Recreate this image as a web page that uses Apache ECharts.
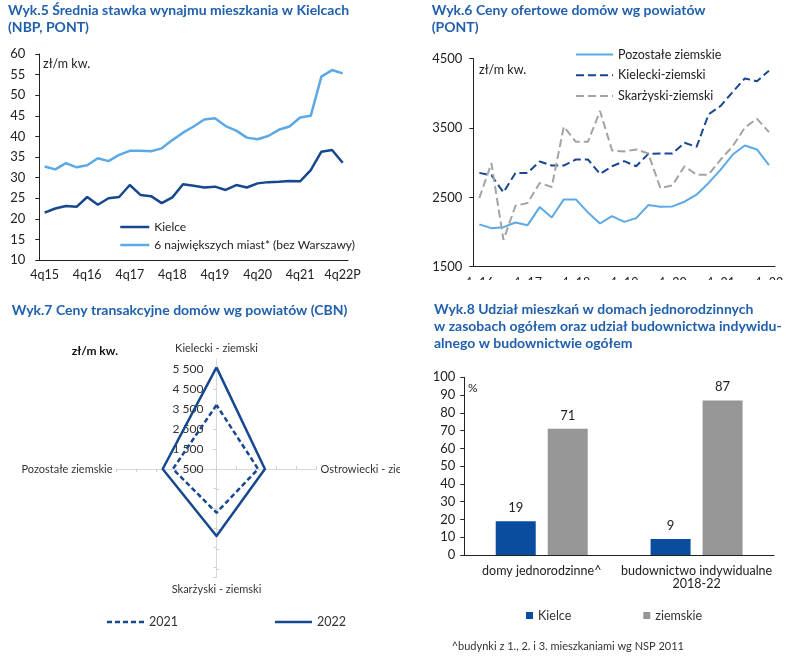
<!DOCTYPE html>
<html><head><meta charset="utf-8">
<script src="https://cdn.jsdelivr.net/npm/echarts@6/dist/echarts.min.js"></script>
<style>
html,body{margin:0;padding:0;background:#fff;width:800px;height:659px;overflow:hidden;}
.p{position:absolute;}
</style></head><body>
<div id="c1" class="p" style="left:0;top:0;width:400px;height:290px"></div>
<div id="c2" class="p" style="left:400px;top:0;width:400px;height:280px"></div>
<div id="c3" class="p" style="left:0;top:290px;width:400px;height:369px"></div>
<div id="c4" class="p" style="left:400px;top:290px;width:400px;height:369px"></div>
<script>
// ---- Wyk.5 data ----
const quarters5 = ['4q15','1q16','2q16','3q16','4q16','1q17','2q17','3q17','4q17','1q18','2q18','3q18','4q18','1q19','2q19','3q19','4q19','1q20','2q20','3q20','4q20','1q21','2q21','3q21','4q21','1q22','2q22','3q22','4q22P'];
const kielceRent = [21.5,22.5,23.1,22.9,25.3,23.4,25.0,25.3,28.2,25.8,25.5,23.8,25.2,28.4,28.0,27.6,27.8,27.0,28.2,27.6,28.6,28.9,29.0,29.2,29.1,31.8,36.3,36.7,33.6];
const top6Rent = [32.7,32.0,33.5,32.5,33.0,34.7,34.0,35.5,36.5,36.5,36.4,37.1,39.1,40.9,42.4,44.1,44.4,42.5,41.4,39.7,39.3,40.1,41.6,42.4,44.6,45.0,54.5,56.1,55.3];
const seriesNames5 = ['Kielce','6 największych miast* (bez Warszawy)'];

// ---- Wyk.6 data ----
const quarters6 = ['4q16','1q17','2q17','3q17','4q17','1q18','2q18','3q18','4q18','1q19','2q19','3q19','4q19','1q20','2q20','3q20','4q20','1q21','2q21','3q21','4q21','1q22','2q22','3q22','4q22'];
const pozostale = [2110,2056,2070,2138,2099,2360,2210,2471,2471,2283,2123,2229,2147,2200,2389,2365,2370,2437,2539,2708,2901,3118,3249,3191,2964];
const kielecki = [2853,2819,2572,2853,2853,3017,2959,2959,3046,3046,2838,2949,3022,2949,3128,3133,3133,3287,3229,3698,3819,4022,4215,4176,4326];
const skarzyski = [2490,2993,1886,2379,2418,2708,2650,3519,3302,3302,3746,3176,3162,3191,3133,2635,2674,2949,2828,2828,3046,3239,3505,3635,3442];
const seriesNames6 = ['Pozostałe ziemskie','Kielecki-ziemski','Skarżyski-ziemski'];

// ---- Wyk.7 data (radar, counter-clockwise from top) ----
const radarAxes = ['Kielecki - ziemski','Pozostałe ziemskie','Skarżyski - ziemski','Ostrowiecki - ziemski'];
const price2021 = [3700,2680,2685,2580];
const price2022 = [5580,3190,3850,2920];
const radarTicks = [500,1500,2500,3500,4500,5500];
const radarAxisMax = 6000;

// ---- Wyk.8 data ----
const cats8 = ['domy jednorodzinne^','budownictwo indywidualne\n2018-22'];
const kielceShare = [19,9];
const ziemskieShare = [71,87];

const F = 'Lato, "Noto Sans", sans-serif';
const TITLE = {fontFamily:F, fontWeight:'bold', fontSize:14, color:'#2160ad', lineHeight:17};
const TXT = {fontFamily:F, fontSize:12, color:'#222', fontWeight:'normal'};
const DARK = '#17478f', LIGHT = '#5ca9e6', GRAY = '#a3a3a3';
const AX = {lineStyle:{color:'#222', width:1}};

// Chart 1
echarts.init(document.getElementById('c1')).setOption({
  animation:false,
  title:[
    {text:'Wyk.5 Średnia stawka wynajmu mieszkania w Kielcach\n(NBP, PONT)', left:8, top:2, padding:0, textStyle:TITLE},
    {text:'zł/m kw.', left:43, top:57, padding:0, textStyle:Object.assign({}, TXT, {fontSize:12.5})}
  ],
  grid:{left:39.3, right:52, top:54, bottom:30, outerBoundsMode:'none', containLabel:false},
  legend:{orient:'vertical', left:119, top:221, padding:0, itemWidth:29, itemHeight:14, itemGap:6,
    itemStyle:{opacity:0},
    textStyle:Object.assign({}, TXT, {fontSize:12}), lineStyle:{width:2.5}, data:seriesNames5},
  xAxis:{type:'category', data:quarters5, boundaryGap:true, axisLine:AX,
    axisTick:{interval:0, length:3, lineStyle:{color:'#222'}},
    axisLabel:{interval:3, margin:8, fontFamily:F, fontSize:12.5, color:'#222'}},
  yAxis:{type:'value', min:10, max:60, interval:5, axisLine:Object.assign({show:true}, AX),
    axisTick:{show:true, length:4, lineStyle:{color:'#222'}}, splitLine:{show:false},
    axisLabel:{margin:14, fontFamily:F, fontSize:13, color:'#222'}},
  series:[
    {type:'line', name:seriesNames5[0], data:kielceRent, symbol:'none', lineStyle:{color:DARK, width:2.5}, itemStyle:{color:DARK}},
    {type:'line', name:seriesNames5[1], data:top6Rent, symbol:'none', lineStyle:{color:LIGHT, width:2.5}, itemStyle:{color:LIGHT}}
  ]
});

// Chart 2
echarts.init(document.getElementById('c2')).setOption({
  animation:false,
  title:[
    {text:'Wyk.6 Ceny ofertowe domów wg powiatów\n(PONT)', left:31.7, top:2, padding:0, textStyle:TITLE},
    {text:'zł/m kw.', left:79, top:63, padding:0, textStyle:Object.assign({}, TXT, {fontSize:12.5})}
  ],
  grid:{left:73.3, right:25, top:58.7, bottom:13.3, outerBoundsMode:'none', containLabel:false},
  legend:{orient:'vertical', left:175, top:48, padding:0, itemWidth:37, itemHeight:14, itemGap:7.7,
    itemStyle:{opacity:0},
    textStyle:Object.assign({}, TXT, {fontSize:12.5}), lineStyle:{width:2}, data:seriesNames6},
  xAxis:{type:'category', data:quarters6, boundaryGap:true, axisLine:AX,
    axisTick:{interval:0, length:3, lineStyle:{color:'#222'}},
    axisLabel:{interval:3, margin:10, fontFamily:F, fontSize:12.5, color:'#222'}},
  yAxis:{type:'value', min:1500, max:4500, interval:1000, axisLine:Object.assign({show:true}, AX),
    axisTick:{show:true, length:4, lineStyle:{color:'#222'}}, splitLine:{show:false},
    axisLabel:{margin:11, fontFamily:F, fontSize:13, color:'#222', formatter:v=>String(v)}},
  series:[
    {type:'line', name:seriesNames6[0], data:pozostale, symbol:'none', lineStyle:{color:LIGHT, width:2}, itemStyle:{color:LIGHT}},
    {type:'line', name:seriesNames6[1], data:kielecki, symbol:'none', lineStyle:{color:DARK, width:2, type:[8,4]}, itemStyle:{color:DARK}},
    {type:'line', name:seriesNames6[2], data:skarzyski, symbol:'none', lineStyle:{color:GRAY, width:2, type:[8,4]}, itemStyle:{color:GRAY}}
  ]
});

// Chart 3 (radar)
const radarNameLabels = radarAxes.map((n,i)=> i===0 ? n+'\n\u00a0' : (i===2 ? '\u00a0\n'+n : n));
const fmtSpace = v=> v>=1000 ? Math.floor(v/1000)+' '+String(v%1000).padStart(3,'0') : String(v);
const vAxisBase = {type:'value', min:radarTicks[0], max:radarAxisMax, interval:1000,
  axisLine:{show:true, lineStyle:{color:'#d9d9d9', width:1}}, splitLine:{show:false},
  axisTick:{show:true, inside:false, length:3, lineStyle:{color:'#cfcfcf'}}};
echarts.init(document.getElementById('c3')).setOption({
  animation:false,
  title:[
    {text:'Wyk.7 Ceny transakcyjne domów wg powiatów (CBN)', left:11.7, top:11.5, padding:0, textStyle:TITLE},
    {text:'zł/m kw.', left:71.7, top:55, padding:0, textStyle:{fontFamily:F, fontSize:12, fontWeight:'bold', color:'#111'}}
  ],
  radar:{center:[216.5,179], radius:100, startAngle:90, splitNumber:5, shape:'polygon',
    indicator: radarNameLabels.map(n=>({name:n, min:radarTicks[0], max:radarTicks[radarTicks.length-1]})),
    axisName:{color:'#333', fontFamily:F, fontSize:11, lineHeight:11},
    axisNameGap:4,
    axisLine:{lineStyle:{color:'#d9d9d9', width:1}},
    axisTick:{show:true, length:3, lineStyle:{color:'#cfcfcf'}},
    splitLine:{show:false}, splitArea:{show:false}, axisLabel:{show:false}},
  grid:[
    {left:216.5, top:69, width:1, height:110, outerBoundsMode:'none', containLabel:false},
    {left:216.5, top:179, width:1, height:108, outerBoundsMode:'none', containLabel:false}
  ],
  xAxis:[{type:'value', show:false, gridIndex:0},{type:'value', show:false, gridIndex:1}],
  yAxis:[
    Object.assign({}, vAxisBase, {gridIndex:0,
      axisLabel:{margin:13, fontFamily:F, fontSize:12, color:'#333', showMaxLabel:false, formatter:fmtSpace}}),
    Object.assign({}, vAxisBase, {gridIndex:1, inverse:true, axisLabel:{show:false}})
  ],
  legend:{left:107, top:325.5, padding:0, itemWidth:37, itemHeight:2.5, itemGap:97,
    textStyle:Object.assign({}, TXT, {fontSize:12.5, color:'#333'}),
    data:[{name:'2021', icon:'path://M0,0h10v5h-10z M16,0h10v5h-10z M32,0h10v5h-10z M48,0h10v5h-10z M64,0h10v5h-10z'},
          {name:'2022', icon:'path://M0,0h74v5h-74z'}]},
  series:[{type:'radar', symbol:'none', data:[
    {name:'2021', value:price2021, lineStyle:{type:[5,3], width:2.5, color:DARK}, itemStyle:{color:DARK}},
    {name:'2022', value:price2022, lineStyle:{width:2.5, color:DARK}, itemStyle:{color:DARK}}
  ]}]
});

// Chart 4 (bars)
echarts.init(document.getElementById('c4')).setOption({
  animation:false,
  title:[
    {text:'Wyk.8 Udział mieszkań w domach jednorodzinnych\nw zasobach ogółem oraz udział budownictwa indywidu-\nalnego w budownictwie ogółem', left:34, top:11.5, padding:0, textStyle:Object.assign({}, TITLE, {lineHeight:16.7})},
    {text:'%', left:68, top:92, padding:0, textStyle:Object.assign({}, TXT, {fontSize:12})},
    {text:'^budynki z 1., 2. i 3. mieszkaniami wg NSP 2011', left:51.7, top:351, padding:0, textStyle:Object.assign({}, TXT, {fontSize:11, color:'#333'})}
  ],
  grid:{left:64.3, right:26, top:87.3, bottom:104, outerBoundsMode:'none', containLabel:false},
  legend:{left:126, top:319, padding:0, itemWidth:7, itemHeight:7, itemGap:72, icon:'rect',
    textStyle:Object.assign({}, TXT, {fontSize:12.5, color:'#333'}), data:['Kielce','ziemskie']},
  xAxis:{type:'category', data:cats8, axisLine:AX,
    axisTick:{interval:0, length:4, lineStyle:{color:'#222'}},
    axisLabel:{interval:0, hideOverlap:false, margin:10, fontFamily:F, fontSize:12.5, color:'#222', lineHeight:12.5}},
  yAxis:{type:'value', min:0, max:100, interval:10, axisLine:Object.assign({show:true}, AX),
    axisTick:{show:true, length:4, lineStyle:{color:'#222'}}, splitLine:{show:false},
    axisLabel:{margin:9, fontFamily:F, fontSize:13, color:'#222'}},
  series:[
    {type:'bar', name:'Kielce', data:kielceShare, barWidth:40, barGap:'30%', itemStyle:{color:'#0a4d9f'},
      label:{show:true, position:'top', distance:7, fontFamily:F, fontSize:13, color:'#222'}},
    {type:'bar', name:'ziemskie', data:ziemskieShare, barWidth:40, itemStyle:{color:'#969696'},
      label:{show:true, position:'top', distance:7, fontFamily:F, fontSize:13, color:'#222'}}
  ]
});
</script>
</body></html>
